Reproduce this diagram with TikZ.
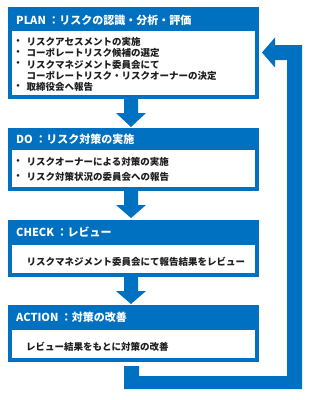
\documentclass[tikz,border=0pt]{standalone}
\usepackage{fontspec}
\setmainfont{Noto Sans CJK JP}
\definecolor{pblue}{RGB}{0,112,192}
\definecolor{ptext}{RGB}{30,30,30}
\newcommand{\tcolon}{\hspace{2.5pt}：}
\tikzset{
  outerbox/.style={fill=pblue, draw=none, anchor=north west, inner sep=0pt},
  innerbox/.style={fill=white, draw=none, anchor=north west, inner sep=0pt},
  titletext/.style={anchor=west, inner sep=0pt, text=white, font=\bfseries\fontsize{11}{12}\selectfont},
  bodytext/.style={anchor=west, inner sep=0pt, text=ptext, font=\bfseries\fontsize{9.5}{11}\selectfont},
  bullet/.style={inner sep=0pt, text=ptext, font=\bfseries\fontsize{9.5}{11}\selectfont},
  flow/.style={fill=pblue, draw=none}
}
\begin{document}
\begin{tikzpicture}[x=1pt,y=-1pt]
\useasboundingbox (0,0) rectangle (315,400);
% boxes
\node[outerbox, minimum width=251pt, minimum height=92pt] (plan) at (8,7) {};
\node[innerbox, minimum width=243pt, minimum height=64pt] (planin) at (12,31) {};
\node[outerbox, minimum width=251pt, minimum height=63pt] (do) at (8,128) {};
\node[innerbox, minimum width=243pt, minimum height=37pt] (doin) at (12,150) {};
\node[outerbox, minimum width=251pt, minimum height=57pt] (check) at (8,220) {};
\node[innerbox, minimum width=243pt, minimum height=28pt] (checkin) at (12,245) {};
\node[outerbox, minimum width=251pt, minimum height=57pt] (act) at (8,305) {};
\node[innerbox, minimum width=243pt, minimum height=28pt] (actin) at (12,330) {};
% titles
\node[titletext] (t1) at (16,20.5) {PLAN\tcolon リスクの認識・分析・評価};
\node[titletext] (t2) at (16,139.5) {DO\tcolon リスク対策の実施};
\node[titletext] (t3) at (16,232.5) {CHECK\tcolon レビュー};
\node[titletext] (t4) at (16,317) {ACTION\tcolon 対策の改善};
% PLAN body
\node[bullet] (b11) at (18,42) {・};
\node[bodytext] (l11) at (26.5,42) {リスクアセスメントの実施};
\node[bullet] (b12) at (18,53.2) {・};
\node[bodytext] (l12) at (26.5,53.2) {コーポレートリスク候補の選定};
\node[bullet] (b13) at (18,64.4) {・};
\node[bodytext] (l13) at (26.5,64.4) {リスクマネジメント委員会にて};
\node[bodytext] (l14) at (26.5,75.6) {コーポレートリスク・リスクオーナーの決定};
\node[bullet] (b15) at (18,86.8) {・};
\node[bodytext] (l15) at (26.5,86.8) {取締役会へ報告};
% DO body
\node[bullet] (b21) at (18,161.7) {・};
\node[bodytext] (l21) at (26.5,161.7) {リスクオーナーによる対策の実施};
\node[bullet] (b22) at (18,177.3) {・};
\node[bodytext] (l22) at (26.5,177.3) {リスク対策状況の委員会への報告};
% CHECK body
\node[bodytext] (l31) at (26.5,262.3) {リスクマネジメント委員会にて報告結果をレビュー};
% ACTION body
\node[bodytext] (l41) at (26,346.7) {レビュー結果をもとに対策の改善};
% down arrows
\fill[flow] (124,99) -- (138,99) -- (138,113) -- (146,113) -- (131,127) -- (116,113) -- (124,113) -- cycle;
\fill[flow] (124,191) -- (138,191) -- (138,205) -- (146,205) -- (131,218) -- (116,205) -- (124,205) -- cycle;
\fill[flow] (124,277) -- (138,277) -- (138,291) -- (146,291) -- (131,304) -- (116,291) -- (124,291) -- cycle;
% return arrow
\fill[flow] (124,366) -- (139,366) -- (139,376) -- (287,376) -- (287,60) -- (275,60) -- (275,67.5) -- (262,52.5) -- (275,37.5) -- (275,45) -- (302,45) -- (302,389) -- (124,389) -- cycle;
\end{tikzpicture}
\end{document}
